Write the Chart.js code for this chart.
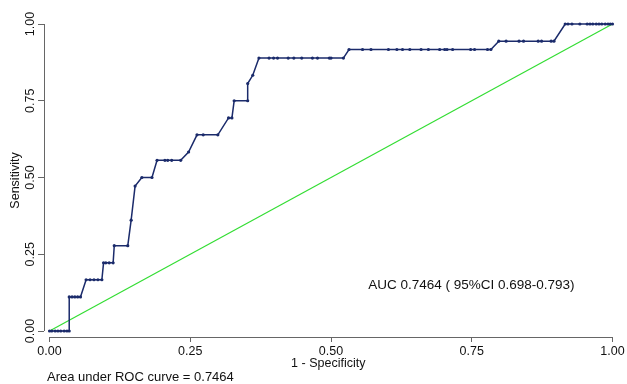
<!DOCTYPE html>
<html lang="en">
<head>
<meta charset="UTF-8">
<title>ROC curve</title>
<script src="https://cdn.jsdelivr.net/npm/chart.js"></script>
<style>
  html, body { margin: 0; padding: 0; background: #fff; }
  #wrap { width: 627px; height: 384px; }
</style>
</head>
<body>
<div id="wrap">
  <canvas id="myChart"></canvas>
</div>
<script>
// 1 - specificity and sensitivity for each point of the ROC curve
const fpr = [0, 0.004, 0.010, 0.015, 0.020, 0.026, 0.031, 0.035,
  0.035, 0.040, 0.045, 0.050, 0.055,
  0.065, 0.072, 0.079, 0.086, 0.093,
  0.096, 0.100, 0.106, 0.113,
  0.115, 0.139,
  0.145, 0.152,
  0.164, 0.182,
  0.191, 0.205, 0.210, 0.217, 0.233,
  0.247,
  0.262, 0.273, 0.299,
  0.318, 0.324,
  0.328, 0.352,
  0.352, 0.361,
  0.372, 0.390, 0.398, 0.405, 0.424, 0.434, 0.448, 0.467, 0.476, 0.497, 0.500, 0.522,
  0.532, 0.556, 0.571, 0.602, 0.617, 0.627, 0.640, 0.660, 0.673, 0.693, 0.702, 0.706, 0.716, 0.748, 0.755, 0.778, 0.784,
  0.798, 0.811, 0.834, 0.842, 0.868, 0.874, 0.891, 0.896,
  0.916, 0.921, 0.928, 0.942, 0.955, 0.960, 0.965, 0.971, 0.976, 0.981, 0.987, 0.992, 0.996, 1];
const tpr = [0, 0, 0, 0, 0, 0, 0, 0,
  0.111, 0.111, 0.111, 0.111, 0.111,
  0.167, 0.167, 0.167, 0.167, 0.167,
  0.222, 0.222, 0.222, 0.222,
  0.278, 0.278,
  0.361, 0.472,
  0.5, 0.5,
  0.556, 0.556, 0.556, 0.556, 0.556,
  0.583,
  0.639, 0.639, 0.639,
  0.694, 0.694,
  0.75, 0.75,
  0.806, 0.833,
  0.889, 0.889, 0.889, 0.889, 0.889, 0.889, 0.889, 0.889, 0.889, 0.889, 0.889, 0.889,
  0.917, 0.917, 0.917, 0.917, 0.917, 0.917, 0.917, 0.917, 0.917, 0.917, 0.917, 0.917, 0.917, 0.917, 0.917, 0.917, 0.917,
  0.944, 0.944, 0.944, 0.944, 0.944, 0.944, 0.944, 0.944,
  1, 1, 1, 1, 1, 1, 1, 1, 1, 1, 1, 1, 1, 1];
// reference line
const refX = [0, 1];
const refY = [0, 1];

const tickVals = [0, 0.25, 0.5, 0.75, 1];
const tickLabels = ['0.00', '0.25', '0.50', '0.75', '1.00'];

const aucText = 'AUC 0.7464 ( 95%CI 0.698-0.793)';
const noteText = 'Area under ROC curve = 0.7464';

const navy = '#1b2b6b';
const green = '#33dd33';
const axisCol = '#666';
const font = 'Liberation Sans';

const ctx = document.getElementById('myChart');

// axis lines only span 0..1, plus the two text notes
const extras = {
  id: 'extras',
  afterDraw(chart) {
    const c = chart.ctx, x = chart.scales.x, y = chart.scales.y;
    c.save();
    c.strokeStyle = axisCol;
    c.lineWidth = 1;
    c.beginPath();
    c.moveTo(chart.chartArea.left + 0.5, y.getPixelForValue(1));
    c.lineTo(chart.chartArea.left + 0.5, y.getPixelForValue(0));
    c.moveTo(x.getPixelForValue(0), chart.chartArea.bottom + 0.5);
    c.lineTo(x.getPixelForValue(1), chart.chartArea.bottom + 0.5);
    c.stroke();
    c.fillStyle = '#111';
    c.textBaseline = 'middle';
    c.textAlign = 'left';
    c.font = '13.5px "' + font + '"';
    c.fillText(aucText, x.getPixelForValue(0.566), y.getPixelForValue(0.15));
    c.font = '13px "' + font + '"';
    c.fillText(noteText, 47, 377);
    c.restore();
  }
};

new Chart(ctx, {
  type: 'scatter',
  data: {
    datasets: [{
      data: fpr.map((v, i) => ({x: v, y: tpr[i]})),
      showLine: true,
      borderColor: navy,
      borderWidth: 1.5,
      pointRadius: 1.6,
      pointBackgroundColor: navy,
      pointBorderColor: navy,
      pointBorderWidth: 0,
      clip: false,
      order: 0
    }, {
      data: refX.map((v, i) => ({x: v, y: refY[i]})),
      showLine: true,
      borderColor: green,
      borderWidth: 1.2,
      pointRadius: 0,
      clip: false,
      order: 1
    }]
  },
  options: {
    responsive: true,
    maintainAspectRatio: false,
    animation: false,
    devicePixelRatio: 1,
    layout: { padding: { left: 0, top: 24, right: 14.5, bottom: 0 } },
    plugins: { legend: { display: false }, tooltip: { enabled: false } },
    scales: {
      x: {
        type: 'linear',
        min: -0.0098,
        max: 1,
        afterBuildTicks: (s) => { s.ticks = tickVals.map(v => ({value: v})); },
        afterFit: (s) => { s.height = 47; },
        ticks: {
          callback: (v, i) => tickLabels[i],
          color: '#111',
          font: { family: font, size: 12.5 },
          padding: 2,
          maxRotation: 0
        },
        grid: { drawOnChartArea: false, drawTicks: true, tickLength: 5, color: axisCol },
        border: { display: false },
        title: {
          display: true,
          text: '1 - Specificity',
          color: '#111',
          font: { family: font, size: 12.5 },
          padding: { top: 0, bottom: 13 }
        }
      },
      y: {
        type: 'linear',
        min: -0.0195,
        max: 1,
        afterBuildTicks: (s) => { s.ticks = tickVals.map(v => ({value: v})); },
        afterFit: (s) => { s.width = 44; },
        ticks: {
          callback: (v, i) => tickLabels[i],
          color: '#111',
          font: { family: font, size: 12.5 },
          minRotation: 90,
          maxRotation: 90,
          crossAlign: 'center',
          padding: -5
        },
        grid: { drawOnChartArea: false, drawTicks: true, tickLength: 6, color: axisCol },
        border: { display: false },
        title: {
          display: true,
          text: 'Sensitivity',
          color: '#111',
          font: { family: font, size: 12.5 },
          padding: { top: 8, bottom: 0 }
        }
      }
    }
  },
  plugins: [extras]
});
</script>
</body>
</html>
